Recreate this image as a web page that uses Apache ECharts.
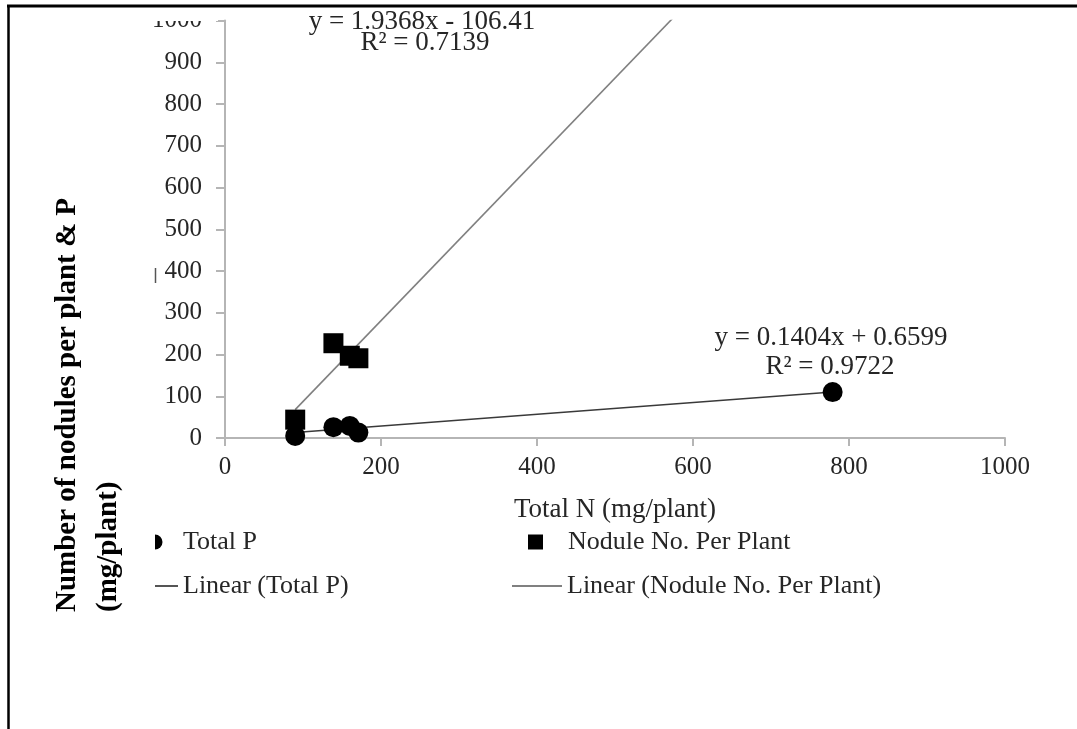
<!DOCTYPE html>
<html><head><meta charset="utf-8">
<script src="https://cdn.jsdelivr.net/npm/echarts@6/dist/echarts.min.js"></script>
<style>html,body{margin:0;padding:0;background:#fff}#c{width:1077px;height:729px}</style>
</head><body><div id="c"></div>
<script>
// ---- data ----
const totalN_P = [90, 139, 160, 171, 779];
const totalP = [5, 26, 29, 13, 110];
const totalN_nod = [90, 139, 160, 171];
const noduleNo = [44, 227, 197, 191];
const trendNames = ['Linear (Total P)', 'Linear (Nodule No. Per Plant)'];
const trendSlopes = [0.1404, 1.9368];
const trendIntercepts = [0.6599, -106.41];
const trendR2 = ['0.9722', '0.7139'];
const trendXRange = [90, 779];
const xMin = 0, xMax = 1000, xStep = 200;
const yMin = 0, yMax = 1000, yStep = 100;

const FONT = "'Liberation Serif','Times New Roman',serif";
const TXT = '#262626';

function eqText(i) {
  const b = trendIntercepts[i];
  return 'y = ' + trendSlopes[i] + 'x ' + (b < 0 ? '- ' : '+ ') + Math.abs(b);
}
function trendData(i) {
  return trendXRange.map(x => [x, trendSlopes[i] * x + trendIntercepts[i]]);
}

const chart = echarts.init(document.getElementById('c'), null, {renderer: 'canvas'});
function lt(padLeft) {
  return {fontFamily: FONT, fontSize: 26, color: TXT, lineHeight: 26, padding: [0, 0, 0, padLeft]};
}
const lineIcon = 'path://M0,0H60V2H0Z';
chart.setOption({
  animation: false,
  backgroundColor: '#fff',
  grid: {left: 225, right: 72, top: 20.5, bottom: 291, containLabel: false},
  xAxis: {
    type: 'value', min: xMin, max: xMax, interval: xStep,
    name: 'Total N (mg/plant)', nameLocation: 'middle', nameGap: 58,
    nameTextStyle: {fontFamily: FONT, fontSize: 27, color: TXT},
    axisLine: {show: true, lineStyle: {color: '#b5b5b5', width: 2}},
    axisTick: {show: true, inside: false, length: 8, lineStyle: {color: '#b5b5b5', width: 2}},
    axisLabel: {fontFamily: FONT, fontSize: 25, color: TXT, margin: 17, formatter: v => String(v)},
    splitLine: {show: false}
  },
  yAxis: {
    type: 'value', min: yMin, max: yMax, interval: yStep,
    axisLine: {show: true, lineStyle: {color: '#b5b5b5', width: 2}},
    axisTick: {show: true, inside: false, length: 9, lineStyle: {color: '#b5b5b5', width: 2}},
    axisLabel: {fontFamily: FONT, fontSize: 25, color: TXT, margin: 23, formatter: v => String(v)},
    splitLine: {show: false}
  },
  legend: [
    {data: [{name: 'Total P', icon: 'circle'}], left: 147.5, top: 529, padding: 0,
     itemWidth: 15, itemHeight: 15, textStyle: lt(15.5), selectedMode: false},
    {data: [{name: 'Nodule No. Per Plant', icon: 'rect'}], left: 528, top: 529, padding: 0,
     itemWidth: 15, itemHeight: 15, textStyle: lt(20), selectedMode: false},
    {data: [{name: trendNames[0], icon: lineIcon}], left: 155, top: 573, padding: 0, symbolKeepAspect: false,
     itemWidth: 23, itemHeight: 2, textStyle: lt(0), selectedMode: false},
    {data: [{name: trendNames[1], icon: lineIcon}], left: 512, top: 573, padding: 0, symbolKeepAspect: false,
     itemWidth: 50, itemHeight: 2, textStyle: lt(0), selectedMode: false}
  ],
  series: [
    {name: trendNames[0], type: 'line', data: trendData(0), symbol: 'none', showSymbol: false,
     lineStyle: {color: '#3a3a3a', width: 1.6}, itemStyle: {color: '#555'}, clip: true, z: 2},
    {name: trendNames[1], type: 'line', data: trendData(1), symbol: 'none', showSymbol: false,
     lineStyle: {color: '#808080', width: 1.6}, itemStyle: {color: '#808080'}, clip: true, z: 2},
    {name: 'Total P', type: 'scatter', symbol: 'circle', symbolSize: 20,
     data: totalN_P.map((x, i) => [x, totalP[i]]), itemStyle: {color: '#000', opacity: 1}, z: 3},
    {name: 'Nodule No. Per Plant', type: 'scatter', symbol: 'rect', symbolSize: 20,
     data: totalN_nod.map((x, i) => [x, noduleNo[i]]), itemStyle: {color: '#000', opacity: 1}, z: 3}
  ],
  graphic: [
    {type: 'line', shape: {x1: 7, y1: 6, x2: 1077, y2: 6}, style: {stroke: '#000', lineWidth: 3}, z: 100},
    {type: 'line', shape: {x1: 8.5, y1: 5, x2: 8.5, y2: 729}, style: {stroke: '#000', lineWidth: 2.5}, z: 100},
    {type: 'rect', shape: {x: 140, y: 8, width: 78, height: 13}, style: {fill: '#fff'}, z: 90},
    {type: 'rect', shape: {x: 135, y: 525, width: 20, height: 30}, style: {fill: '#fff'}, z: 90},
    {type: 'line', shape: {x1: 155.5, y1: 268, x2: 155.5, y2: 283}, style: {stroke: '#555', lineWidth: 1.5}, z: 50},
    {type: 'text', x: 422, y: 22, style: {text: eqText(1), fontFamily: FONT, fontSize: 27, fill: TXT, textAlign: 'center', textVerticalAlign: 'middle'}, z: 60},
    {type: 'text', x: 425, y: 43, style: {text: 'R² = ' + trendR2[1], fontFamily: FONT, fontSize: 27, fill: TXT, textAlign: 'center', textVerticalAlign: 'middle'}, z: 60},
    {type: 'text', x: 831, y: 338, style: {text: eqText(0), fontFamily: FONT, fontSize: 27, fill: TXT, textAlign: 'center', textVerticalAlign: 'middle'}, z: 60},
    {type: 'text', x: 830, y: 367, style: {text: 'R² = ' + trendR2[0], fontFamily: FONT, fontSize: 27, fill: TXT, textAlign: 'center', textVerticalAlign: 'middle'}, z: 60},
    {type: 'text', x: 47, y: 612, rotation: Math.PI / 2,
     style: {text: 'Number of nodules per plant & P\n(mg/plant)', fontFamily: FONT, fontSize: 29, fontWeight: 'bold',
             fill: '#000', textAlign: 'left', textVerticalAlign: 'top', lineHeight: 41}, z: 60}
  ]
});
</script></body></html>
